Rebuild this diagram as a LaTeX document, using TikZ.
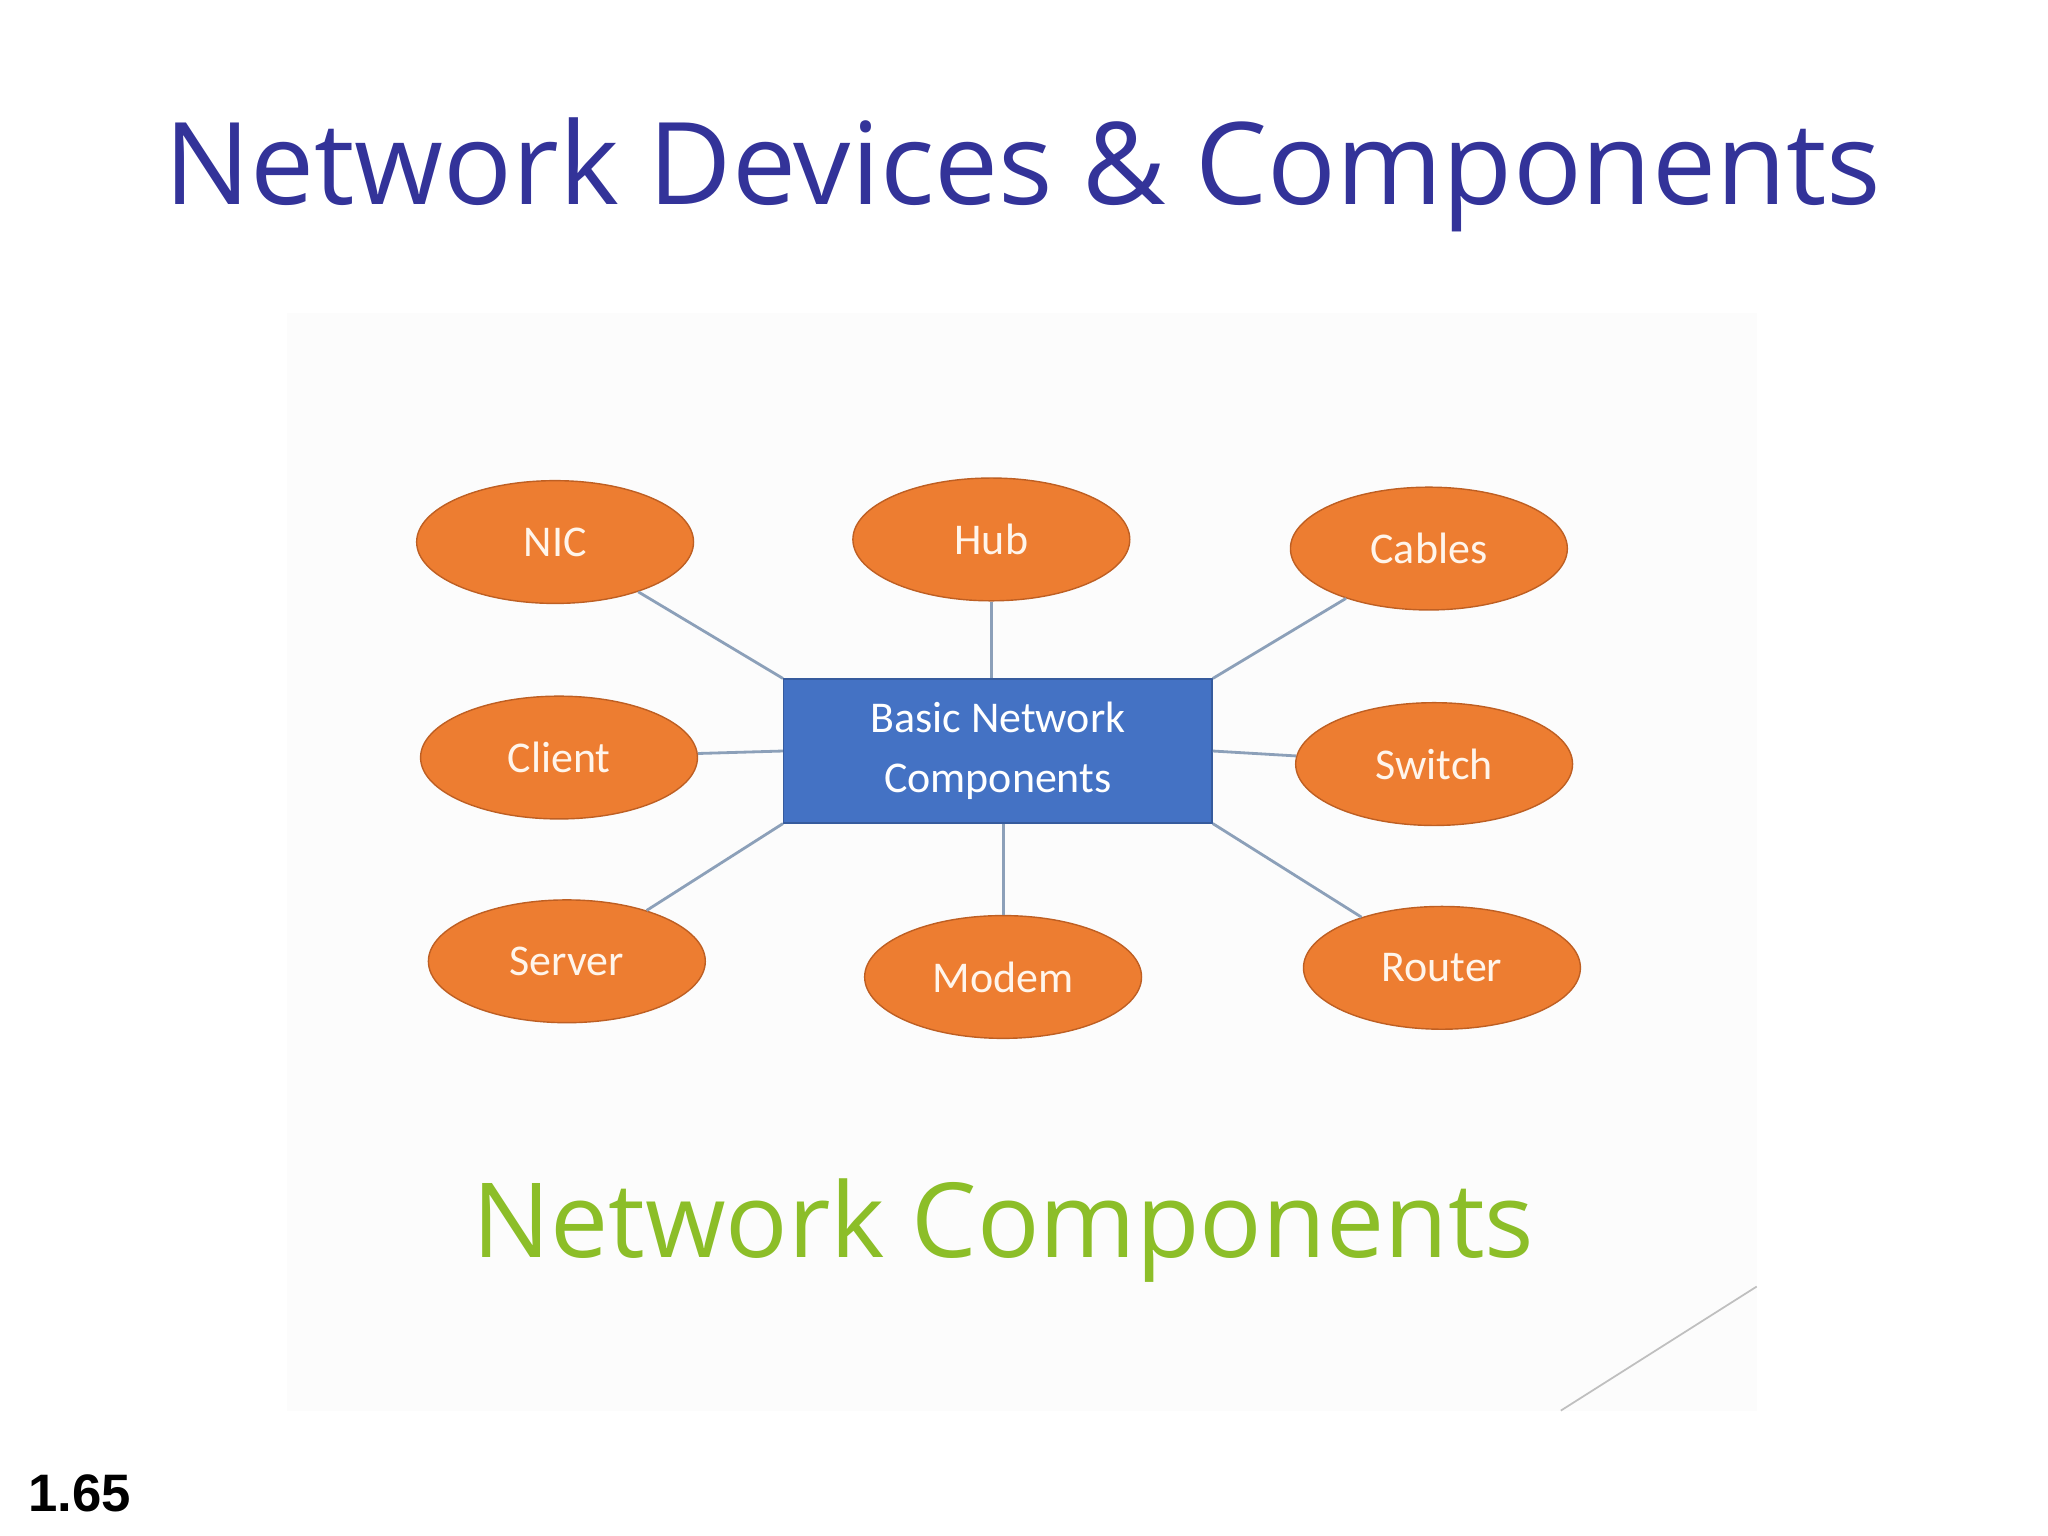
\documentclass[tikz,border=0pt]{standalone}
\usepackage{fontspec}
\setmainfont{Open Sans}
\newfontfamily\calib{Carlito}
\newfontfamily\arialb{Liberation Sans}
\usetikzlibrary{positioning}
\usetikzlibrary{shapes.geometric}
\definecolor{titleblue}{RGB}{51,51,153}
\definecolor{compgreen}{RGB}{140,190,40}
\definecolor{partorange}{RGB}{237,125,49}
\definecolor{partedge}{RGB}{190,95,35}
\definecolor{hubblue}{RGB}{68,114,196}
\definecolor{linkgray}{RGB}{140,160,185}
\begin{document}
\begin{tikzpicture}[x=0.01306cm,y=-0.01306cm]
\tikzset{part/.style={ellipse,minimum width=212*0.01306cm,minimum height=94*0.01306cm, draw=partedge, fill=partorange, text=white!92!orange, font=\calib\fontsize{12.5}{14}\selectfont}}
\tikzset{core/.style={rectangle,minimum width=328*0.01306cm,minimum height=110*0.01306cm, draw=hubblue!80!black, fill=hubblue, text=white, align=center, font=\calib\fontsize{12.5}{17}\selectfont}}
\tikzset{link/.style={draw=linkgray, line width=0.8pt}}
\useasboundingbox (0,0) rectangle (1568,1176);
\fill[gray!2] (220,240) rectangle (1345,1080);
\node[text=titleblue, font=\fontsize{32.5}{38}\selectfont] (title) at (783,134) {Network Devices \& Components};
\node[core] (basic) at (764,575) {Basic Network\\Components};
\node[part] (nic) at (425,415) {NIC};
\node[part] (hub) at (759,413) {Hub};
\node[part] (cables) at (1094,420) {Cables};
\node[part] (client) at (428,580) {Client};
\node[part] (switch) at (1098,585) {Switch};
\node[part] (server) at (434,736) {Server};
\node[part] (modem) at (768,748) {Modem};
\node[part] (router) at (1104,741) {Router};
\draw[link] (nic) -- (basic.north west);
\draw[link] (hub) -- (hub |- basic.north);
\draw[link] (cables) -- (basic.north east);
\draw[link] (client) -- (basic.west);
\draw[link] (switch) -- (basic.east);
\draw[link] (server) -- (basic.south west);
\draw[link] (modem) -- (modem |- basic.south);
\draw[link] (router) -- (basic.south east);
\node[text=compgreen, font=\fontsize{29.5}{34}\selectfont] (label) at (768,942) {Network Components};
\draw[gray!50, line width=0.5pt] (1195,1080) -- (1345,985);
\node[anchor=west, font=\arialb\bfseries\fontsize{15}{18}\selectfont] (pagenum) at (12,1143) {1.65};
\end{tikzpicture}
\end{document}
